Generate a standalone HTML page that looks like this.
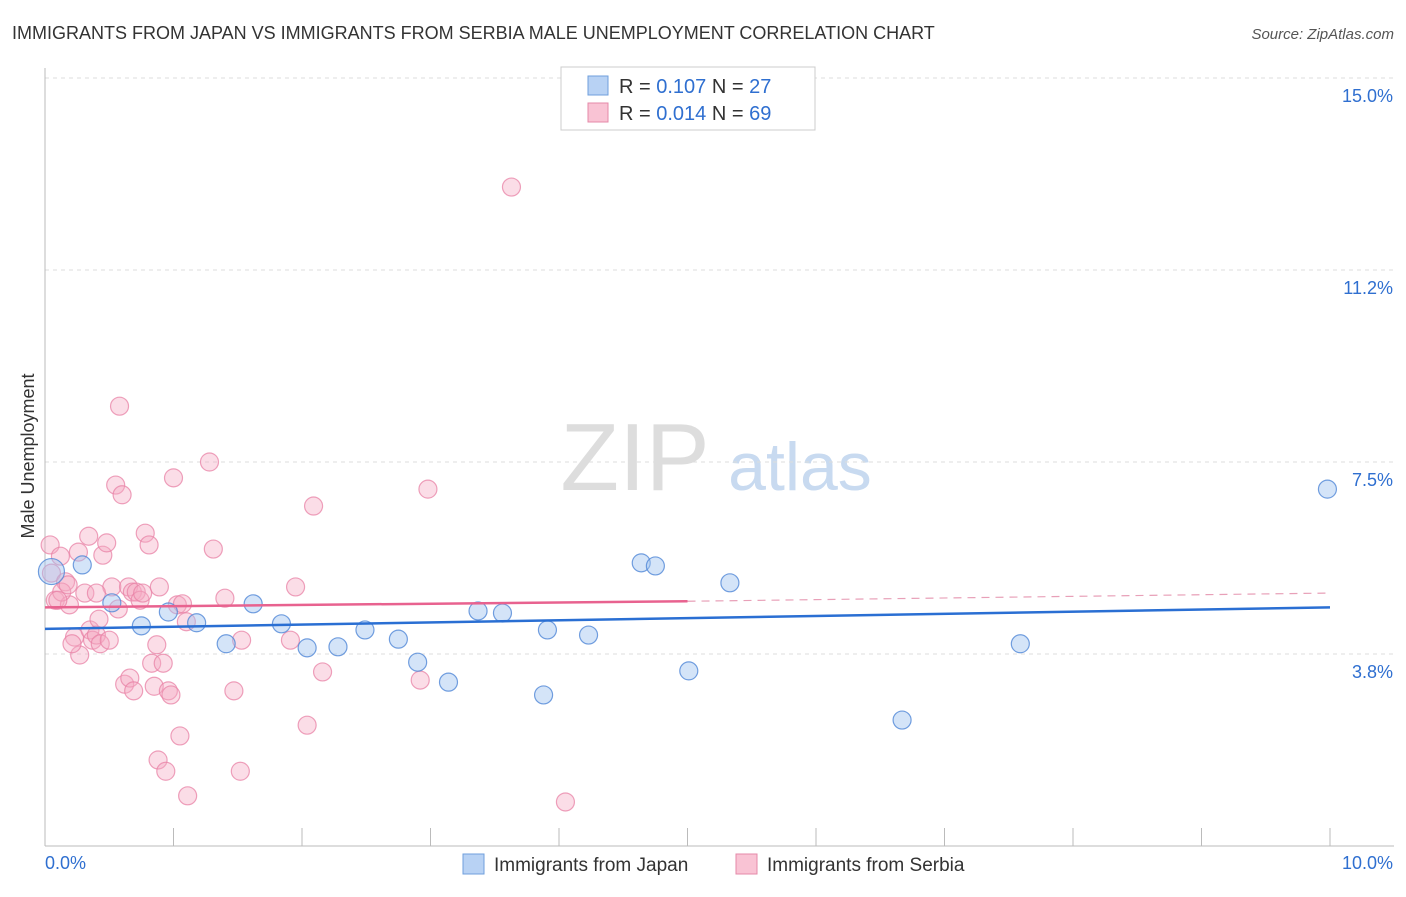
<!DOCTYPE html>
<html><head><meta charset="utf-8"><style>
body{margin:0;background:#fff;font-family:"Liberation Sans",sans-serif;}
svg text{font-family:"Liberation Sans",sans-serif;}
</style></head><body>
<svg id="chart" width="1406" height="892">
<text x="12" y="39" font-size="18" fill="#333">IMMIGRANTS FROM JAPAN VS IMMIGRANTS FROM SERBIA MALE UNEMPLOYMENT CORRELATION CHART</text>
<text x="1394" y="39" font-size="15" fill="#555" font-style="italic" text-anchor="end">Source: ZipAtlas.com</text>
<text x="635" y="490" font-size="96" fill="#ddd" font-family="Liberation Serif" text-anchor="middle">ZIP</text>
<text x="800" y="490" font-size="68" fill="#c8daf0" text-anchor="middle">atlas</text>
<text transform="translate(34,456) rotate(-90)" font-size="18" fill="#333" text-anchor="middle">Male Unemployment</text>
<g id="grid"></g><g id="axes"></g><g id="pts"></g><g id="trend"></g>
<g>
<rect x="561" y="67" width="254" height="63" fill="#fff" stroke="#ccc"/>
<rect x="588" y="76" width="20" height="19" fill="#b8d2f4" stroke="#6f9fdc"/>
<rect x="588" y="103" width="20" height="19" fill="#f9c3d4" stroke="#e58aa8"/>
<text x="619" y="93" font-size="20" fill="#333">R = <tspan fill="#2f6fd0">0.107</tspan>   N = <tspan fill="#2f6fd0">27</tspan></text>
<text x="619" y="120" font-size="20" fill="#333">R = <tspan fill="#2f6fd0">0.014</tspan>   N = <tspan fill="#2f6fd0">69</tspan></text>
</g>
<g>
<rect x="463" y="854" width="21" height="20" fill="#b8d2f4" stroke="#6f9fdc"/>
<text x="494" y="871" font-size="19" fill="#333">Immigrants from Japan</text>
<rect x="736" y="854" width="21" height="20" fill="#f9c3d4" stroke="#e58aa8"/>
<text x="767" y="871" font-size="19" fill="#333">Immigrants from Serbia</text>
</g>
</svg>
<script>
const yTicks=[3.75,7.5,11.25,15];
const yTickLabels=["3.8%","7.5%","11.2%","15.0%"];
const xTickLabels=["0.0%","10.0%"];
const japanX=[0.05,0.29,0.52,0.75,0.96,1.18,1.41,1.62,1.84,2.04,2.28,2.49,2.75,2.90,3.14,3.37,3.56,3.88,3.91,4.23,4.64,4.75,5.01,5.33,6.67,7.59,9.98];
const japanY=[5.36,5.49,4.75,4.30,4.57,4.36,3.95,4.73,4.34,3.87,3.89,4.22,4.04,3.59,3.20,4.59,4.55,2.95,4.22,4.12,5.53,5.47,3.42,5.14,2.46,3.95,6.97];
const japanR=[13,9,9,9,9,9,9,9,9,9,9,9,9,9,9,9,9,9,9,9,9,9,9,9,9,9,9];
const serbiaX=[0.04,0.05,0.08,0.12,0.16,0.19,0.23,0.26,0.27,0.31,0.34,0.35,0.37,0.40,0.43,0.45,0.48,0.50,0.52,0.55,0.58,0.60,0.62,0.65,0.66,0.68,0.71,0.74,0.76,0.78,0.81,0.83,0.85,0.87,0.88,0.89,0.92,0.94,0.96,0.98,1.00,1.03,1.05,1.07,1.10,1.11,1.28,1.31,1.40,1.47,1.52,1.53,1.91,1.95,2.04,2.09,2.16,2.92,2.98,3.63,4.05,0.13,0.18,0.21,0.10,0.42,0.40,0.69,0.57];
const serbiaY=[5.88,5.33,4.80,5.66,5.16,4.71,4.08,5.74,3.73,4.94,6.05,4.22,4.02,4.12,3.95,5.68,5.92,4.02,5.06,7.05,8.59,6.86,3.16,5.06,3.28,4.96,4.96,4.80,4.94,6.11,5.88,3.57,3.12,3.93,1.68,5.06,3.57,1.46,3.03,2.95,7.19,4.71,2.15,4.73,4.38,0.98,7.50,5.80,4.84,3.03,1.46,4.02,4.02,5.06,2.36,6.64,3.40,3.24,6.97,12.87,0.86,4.96,5.10,3.95,4.80,4.43,4.94,3.03,4.63];
const trendJapan=[4.24,4.66];
const trendSerbia=[4.66,4.78,4.94];
const NS="http://www.w3.org/2000/svg";
const X=v=>45+v*128.5, Y=v=>846-v*51.2;
function mk(t,a,p){const e=document.createElementNS(NS,t);for(const k in a)e.setAttribute(k,a[k]);p.appendChild(e);return e;}
const grid=document.getElementById('grid'),axes=document.getElementById('axes'),pts=document.getElementById('pts'),tr=document.getElementById('trend');
yTicks.forEach((t,i)=>{
 const l=mk('line',{x1:45,x2:1394,y1:Y(t),y2:Y(t),stroke:'#ddd','stroke-dasharray':'4,4'},grid);
 
 
 const tx=mk('text',{x:1393,y:Y(t)+24,'font-size':18,fill:'#2f6fd0','text-anchor':'end'},axes);
 tx.textContent=yTickLabels[i];
 
 
});
mk('line',{x1:45,x2:45,y1:68,y2:846,stroke:'#bbb'},axes);
mk('line',{x1:45,x2:1394,y1:846,y2:846,stroke:'#bbb'},axes);
for(let i=1;i<=10;i++){mk('line',{x1:X(i),x2:X(i),y1:828,y2:846,stroke:'#bbb'},axes);}
const xl0=mk('text',{x:45,y:869,'font-size':18,fill:'#2f6fd0'},axes);xl0.textContent=xTickLabels[0];


const xl1=mk('text',{x:1393,y:869,'font-size':18,fill:'#2f6fd0','text-anchor':'end'},axes);xl1.textContent=xTickLabels[1];


serbiaX.forEach((x,i)=>{
 const c=mk('circle',{cx:X(x),cy:Y(serbiaY[i]),r:9,fill:'rgba(246,170,195,0.4)',stroke:'rgba(232,130,165,0.75)','stroke-width':1.2},pts);
 
 
});
japanX.forEach((x,i)=>{
 const c=mk('circle',{cx:X(x),cy:Y(japanY[i]),r:japanR[i],fill:'rgba(160,195,240,0.45)',stroke:'rgba(80,135,215,0.8)','stroke-width':1.2},pts);
 
 
});
const tj=mk('line',{x1:X(0),y1:Y(trendJapan[0]),x2:X(10),y2:Y(trendJapan[1]),stroke:'#2a6fd3','stroke-width':2.5},tr);


const ts=mk('line',{x1:X(0),y1:Y(trendSerbia[0]),x2:X(5),y2:Y(trendSerbia[1]),stroke:'#e8628f','stroke-width':2.5},tr);


const td=mk('line',{x1:X(5),y1:Y(trendSerbia[1]),x2:X(10),y2:Y(trendSerbia[2]),stroke:'#e8a0b8','stroke-width':1.2,'stroke-dasharray':'8,6'},tr);


</script>
</body></html>
